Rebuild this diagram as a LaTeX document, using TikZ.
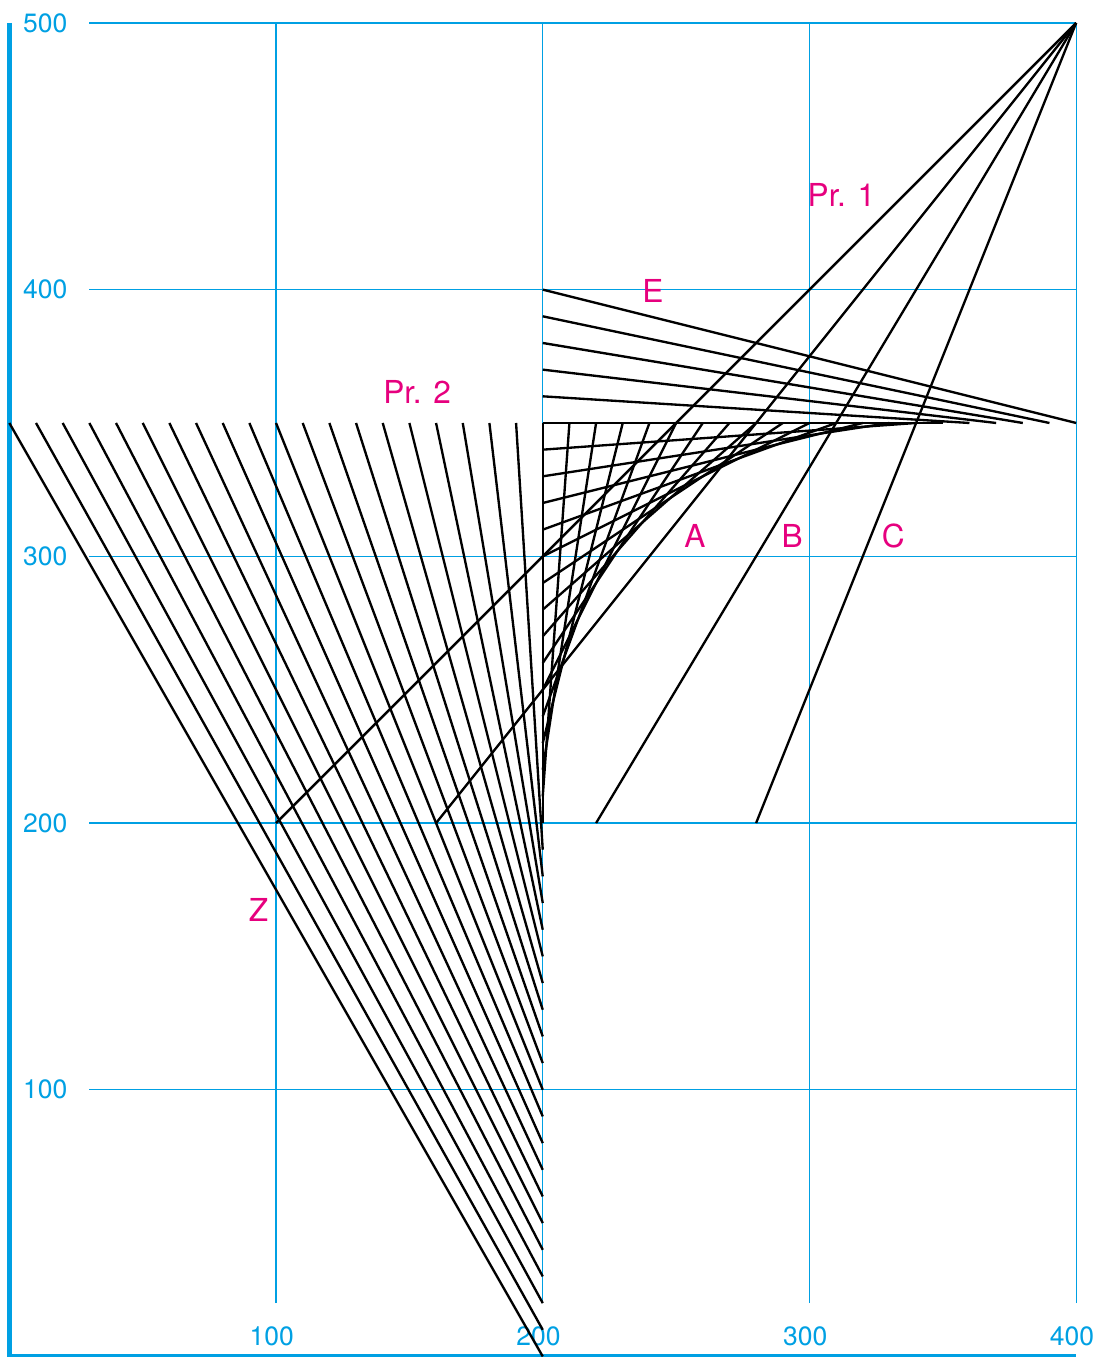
\documentclass[tikz,border=0pt]{standalone}
\usepackage{fontspec}
\setmainfont{TeX Gyre Heros}
\definecolor{gridcyan}{RGB}{0,160,227}
\definecolor{tagpink}{RGB}{230,0,126}
\begin{document}
\begin{tikzpicture}[x=0.04cm,y=0.04cm,line join=round,
  grid/.style={gridcyan,line width=0.5pt},
  axis/.style={gridcyan,line width=2.1pt,line join=miter},
  ray/.style={black,line width=1pt},
  num/.style={gridcyan,inner sep=0pt,font=\fontsize{11.3}{13}\selectfont},
  tag/.style={tagpink,inner sep=0pt,font=\fontsize{13.5}{16}\selectfont}]
\useasboundingbox (-3.5,-0.2) rectangle (407.1,508.6);
\path
(400,500) coordinate (P)
(0,500) coordinate (Ytop)
(0,0) coordinate (O)
(400,0) coordinate (Xend)
;
% grid
\foreach \x in {100,200,300,400} \draw[grid] (\x,20) -- (\x,500);
\foreach \y in {100,200,300,400,500} \draw[grid] (30,\y) -- (400,\y);
\draw[axis] (Ytop)--(O)--(Xend);
\foreach \x in {100,200,300,400} \node[num] (nx\x) at (\x-1.6,7.5) {\x};
\foreach \y in {100,200,300,400,500} \node[num,anchor=west] (ny\y) at (5,\y) {\y};
% envelope: (200,a) to (a,350)
\foreach \a in {0,10,...,400} \draw[ray] (200,\a)--(\a,350);
% Pr. 1
\foreach \s in {100,160,220,280} \draw[ray] (\s,200)--(P);
% labels
\foreach \t/\p in {Pr. 1/{312,435.5}, E/{241.3,399.6}, Pr. 2/{152.9,361.8}, Z/{93.4,167.4}, A/{257.1,307.6}, B/{293.5,307.6}, C/{331.4,307.6}}
\node[tag] (tag\t) at (\p) {\t};
\end{tikzpicture}
\end{document}
